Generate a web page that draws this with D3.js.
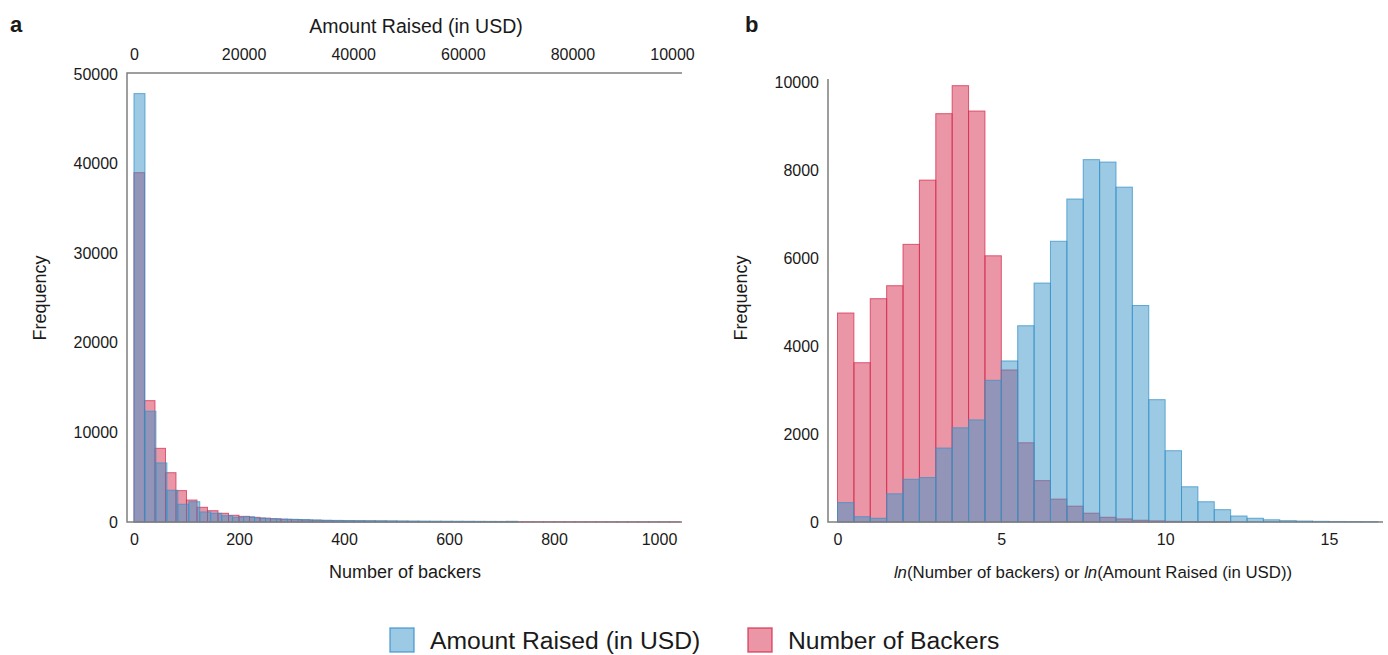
<!DOCTYPE html>
<html>
<head>
<meta charset="utf-8">
<script src="https://cdn.jsdelivr.net/npm/d3@7"></script>
<style>
  body { margin: 0; background: #fff; }
  svg { display: block; font-family: "Liberation Sans", Arial, sans-serif; }
</style>
</head>
<body>
<svg id="chart" width="1388" height="655"></svg>
<script>
// ---- Panel a: raw distributions ----
// Number of backers, bins of 20 backers starting at 0
const backersBinWidth = 20;
const backersCounts = [
  38980, 13540, 8220, 5500, 3500, 2450, 1640, 1260, 970, 750,
  630, 520, 430, 360, 300, 260, 220, 190, 160, 140,
  120, 110, 100, 90, 80, 70, 65, 60, 55, 50,
  45, 42, 40, 38, 35, 33, 30, 28, 26, 25,
  24, 22, 21, 20, 19, 18, 17, 16, 16, 15,
  15, 14
];
// Amount raised, bins of 2000 USD starting at 0
const amountBinWidth = 2000;
const amountCounts = [
  47800, 12360, 6590, 3540, 1980, 2260, 1120, 970, 700, 520,
  590, 450, 380, 330, 300, 280, 230, 200, 180, 170,
  160, 150, 140, 130, 120, 110, 100, 95, 90, 85,
  80, 75, 70, 65, 80
];

// ---- Panel b: log-transformed distributions, bins of 0.5 ----
const logBinWidth = 0.5;
const lnBackersCounts = [
  4750, 3620, 5075, 5370, 6310, 7770, 9280, 9916, 9340, 6050,
  3455, 1800, 940, 520, 360, 200, 107, 70, 40, 25,
  15, 10, 5, 3
];
const lnAmountCounts = [
  440, 120, 85, 640, 970, 1010, 1680, 2140, 2320, 3220,
  3660, 4460, 5430, 6380, 7340, 8235, 8180, 7610, 4920, 2780,
  1620, 800, 460, 280, 136, 85, 50, 30, 22, 15,
  12, 10, 8
];

// Axis ticks and labels
const backersTicks = [0, 200, 400, 600, 800, 1000];
const amountTicks = [0, 20000, 40000, 60000, 80000, 100000];
const amountTickLabels = ["0", "20000", "40000", "60000", "80000", "10000"];
const freqTicksA = [0, 10000, 20000, 30000, 40000, 50000];
const freqTicksB = [0, 2000, 4000, 6000, 8000, 10000];
const lnTicks = [0, 5, 10, 15];

const seriesNames = ["Amount Raised (in USD)", "Number of Backers"];

const blue = "#3a93c8";
const red = "#d62d4e";
const axisColor = "#7f7f7f";
const textColor = "#1a1a1a";
const plain = d3.format("d");

const svg = d3.select("#chart");

function bins(counts, width) {
  return counts.map((c, i) => ({ x0: i * width, x1: (i + 1) * width, n: c }));
}

function drawBars(g, data, x, y, color) {
  g.append("g").selectAll("rect").data(data).join("rect")
    .attr("x", d => x(d.x0))
    .attr("width", d => x(d.x1) - x(d.x0))
    .attr("y", d => y(d.n))
    .attr("height", d => y(0) - y(d.n))
    .attr("fill", color).attr("fill-opacity", 0.5)
    .attr("stroke", color).attr("stroke-opacity", 0.75).attr("stroke-width", 1);
}

function styleAxis(sel) {
  sel.select(".domain").remove();
  sel.selectAll(".tick line").remove();
  sel.selectAll("text").attr("fill", textColor).style("font-size", "16px");
}

// ================= Panel a =================
const aL = 127, aR = 682, aT = 73, aB = 522;
const xBackers = d3.scaleLinear().domain([-13.3, 1043.8]).range([aL, aR]);
const xAmount = d3.scaleLinear().domain([-1277, 100000]).range([aL, aR]);
const yA = d3.scaleLinear().domain([0, 50100]).range([aB, aT]);

const gA = svg.append("g");
drawBars(gA, bins(backersCounts, backersBinWidth), xBackers, yA, red);
drawBars(gA, bins(amountCounts, amountBinWidth), xAmount, yA, blue);

gA.append("g").attr("transform", `translate(${aL},0)`)
  .call(d3.axisLeft(yA).tickValues(freqTicksA).tickFormat(plain).tickSize(0).tickPadding(9))
  .call(styleAxis);
gA.append("g").attr("transform", `translate(0,${aB})`)
  .call(d3.axisBottom(xBackers).tickValues(backersTicks).tickFormat(plain).tickSize(0).tickPadding(12))
  .call(styleAxis);
gA.append("g").attr("transform", `translate(0,${aT})`)
  .call(d3.axisTop(xAmount).tickValues(amountTicks)
    .tickFormat((d, i) => amountTickLabels[i]).tickSize(0).tickPadding(13))
  .call(styleAxis)
  .call(s => s.selectAll(".tick:last-of-type text").attr("dx", -10));

gA.append("path")
  .attr("d", `M${aR},${aT}H${aL}V${aB}H${aR}`)
  .attr("fill", "none").attr("stroke", axisColor).attr("stroke-width", 1.5);

gA.append("text").attr("x", 10).attr("y", 32)
  .attr("font-size", 22).attr("font-weight", "bold").attr("fill", textColor).text("a");
gA.append("text").attr("x", 416).attr("y", 33).attr("text-anchor", "middle")
  .attr("font-size", 19.5).attr("fill", textColor).text("Amount Raised (in USD)");
gA.append("text").attr("x", 405).attr("y", 578).attr("text-anchor", "middle")
  .attr("font-size", 18).attr("fill", textColor).text("Number of backers");
gA.append("text").attr("transform", "translate(46,298) rotate(-90)")
  .attr("text-anchor", "middle").attr("font-size", 18).attr("fill", textColor).text("Frequency");

// ================= Panel b =================
const bL = 828, bR = 1383, bT = 79, bB = 522;
const xLn = d3.scaleLinear().domain([-0.29, 16.65]).range([bL, bR]);
const yB = d3.scaleLinear().domain([0, 10068]).range([bB, bT]);

const gB = svg.append("g");
drawBars(gB, bins(lnBackersCounts, logBinWidth), xLn, yB, red);
drawBars(gB, bins(lnAmountCounts, logBinWidth), xLn, yB, blue);

gB.append("g").attr("transform", `translate(${bL},0)`)
  .call(d3.axisLeft(yB).tickValues(freqTicksB).tickFormat(plain).tickSize(0).tickPadding(9))
  .call(styleAxis);
gB.append("g").attr("transform", `translate(0,${bB})`)
  .call(d3.axisBottom(xLn).tickValues(lnTicks).tickFormat(plain).tickSize(0).tickPadding(12))
  .call(styleAxis);

gB.append("path")
  .attr("d", `M${bL},${bT}V${bB}H${bR}`)
  .attr("fill", "none").attr("stroke", axisColor).attr("stroke-width", 1.5);

gB.append("text").attr("x", 745).attr("y", 32)
  .attr("font-size", 22).attr("font-weight", "bold").attr("fill", textColor).text("b");
gB.append("text").attr("transform", "translate(747,298) rotate(-90)")
  .attr("text-anchor", "middle").attr("font-size", 18).attr("fill", textColor).text("Frequency");

const xt = gB.append("text").attr("x", 1093).attr("y", 578).attr("text-anchor", "middle")
  .attr("font-size", 16.8).attr("fill", textColor);
xt.append("tspan").attr("font-style", "italic").text("ln");
xt.append("tspan").text("(Number of backers) or ");
xt.append("tspan").attr("font-style", "italic").text("ln");
xt.append("tspan").text("(Amount Raised (in USD))");

// ================= Legend =================
const legend = svg.append("g");
const legendItems = [
  { name: seriesNames[0], color: blue, x: 390, tx: 430 },
  { name: seriesNames[1], color: red, x: 748, tx: 788 }
];
legendItems.forEach(it => {
  legend.append("rect").attr("x", it.x).attr("y", 628).attr("width", 24).attr("height", 24)
    .attr("fill", it.color).attr("fill-opacity", 0.5)
    .attr("stroke", it.color).attr("stroke-opacity", 0.75).attr("stroke-width", 1.5);
  legend.append("text").attr("x", it.tx).attr("y", 649)
    .attr("font-size", 24.7).attr("fill", textColor).text(it.name);
});
</script>
</body>
</html>
